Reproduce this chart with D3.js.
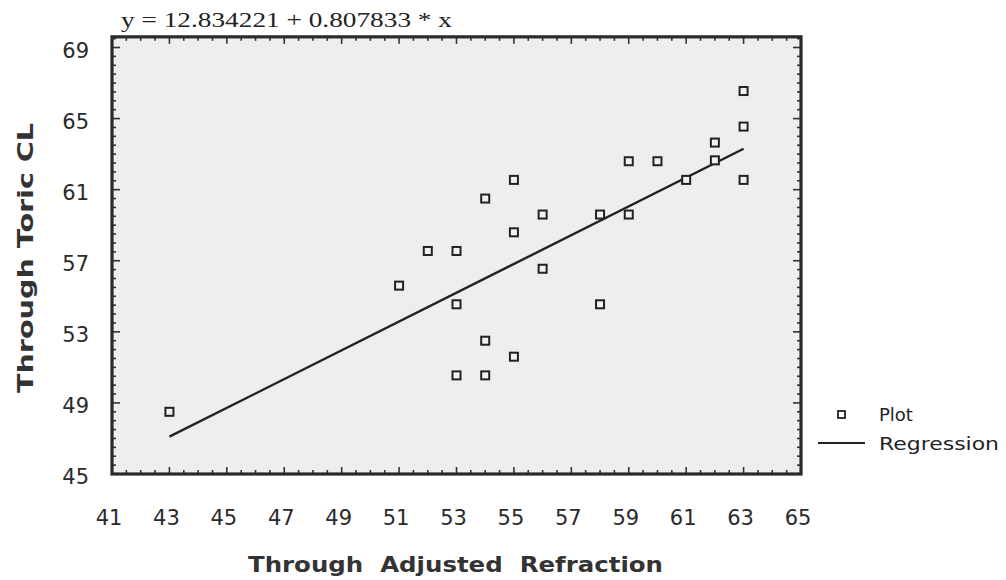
<!DOCTYPE html>
<html lang="en">
<head>
  <meta charset="UTF-8">
  <title>Through Toric CL vs Through Adjusted Refraction</title>
  <script src="https://cdnjs.cloudflare.com/ajax/libs/d3/7.8.5/d3.min.js"></script>
  <style>
    body { margin: 0; background: #fff; }
    svg { display: block; }
    .tick-label { font-family: "DejaVu Sans", sans-serif; font-size: 21px; fill: #2a2a2a; }
    .axis-title { font-family: "DejaVu Sans", sans-serif; font-weight: bold; font-size: 21px; fill: #333; }
    .legend { font-family: "DejaVu Sans", sans-serif; font-size: 18px; fill: #222; }
  </style>
</head>
<body>
<svg id="chart" width="1006" height="580"></svg>
<script>
// data
const xVals = [43, 51, 52, 53, 53, 53, 54, 54, 54, 55, 55, 55, 56, 56, 58, 58, 59, 59, 60, 61, 62, 62, 63, 63, 63];
const yVals = [48.5, 55.6, 57.55, 57.55, 54.55, 50.55, 60.5, 52.5, 50.55, 61.55, 58.6, 51.6, 59.6, 56.55, 59.6, 54.55, 62.6, 59.6, 62.6, 61.55, 63.65, 62.65, 66.55, 64.55, 61.55];
const lineX = [43, 63];
const lineY = [47.1, 63.3];
const xTicks = [41, 43, 45, 47, 49, 51, 53, 55, 57, 59, 61, 63, 65];
const yTicks = [45, 49, 53, 57, 61, 65, 69];
const equation = "y = 12.834221 + 0.807833 * x";

const svg = d3.select("#chart");
const x = d3.scaleLinear().domain([41, 65]).range([112, 801]);
const y = d3.scaleLinear().domain([45, 69]).range([474, 47.5]);
const yTop = 69.6;

// grainy paper texture
const defs = svg.append("defs");
const f = defs.append("filter").attr("id", "grain").attr("x", 0).attr("y", 0).attr("width", 1).attr("height", 1);
f.append("feTurbulence").attr("type", "fractalNoise").attr("baseFrequency", 0.9).attr("numOctaves", 2).attr("seed", 3);
f.append("feColorMatrix").attr("values", "0 0 0 0 0.45  0 0 0 0 0.45  0 0 0 0 0.45  0 0 0 0.16 0");
f.append("feComposite").attr("in2", "SourceGraphic").attr("operator", "in");

const fx0 = x(41), fx1 = x(65), fy0 = y(yTop), fy1 = y(45);
svg.append("rect").attr("x", fx0).attr("y", fy0).attr("width", fx1 - fx0).attr("height", fy1 - fy0)
  .attr("fill", "#f3f3f3");
svg.append("rect").attr("x", fx0).attr("y", fy0).attr("width", fx1 - fx0).attr("height", fy1 - fy0)
  .attr("fill", "#fff").attr("filter", "url(#grain)");

// inward ticks on all four sides
const ticks = svg.append("g").attr("stroke", "#333").attr("stroke-width", 1.6);
d3.range(41, 65.01, 0.5).forEach(v => {
  const major = xTicks.includes(v), len = major ? 7 : 4;
  ticks.append("line").attr("x1", x(v)).attr("x2", x(v)).attr("y1", fy1).attr("y2", fy1 - len);
  ticks.append("line").attr("x1", x(v)).attr("x2", x(v)).attr("y1", fy0).attr("y2", fy0 + len);
});
d3.range(45, yTop, 0.5).forEach(v => {
  const major = yTicks.includes(v), len = major ? 8 : 4;
  ticks.append("line").attr("y1", y(v)).attr("y2", y(v)).attr("x1", fx0).attr("x2", fx0 + len);
  ticks.append("line").attr("y1", y(v)).attr("y2", y(v)).attr("x1", fx1).attr("x2", fx1 - len);
});

svg.append("rect").attr("x", fx0).attr("y", fy0).attr("width", fx1 - fx0).attr("height", fy1 - fy0)
  .attr("fill", "none").attr("stroke", "#2a2a2a").attr("stroke-width", 3.2);

// tick labels
svg.append("g").selectAll("text").data(xTicks).join("text")
  .attr("class", "tick-label").attr("x", d => x(d) - 3).attr("y", 525)
  .attr("text-anchor", "middle").text(d => d);
svg.append("g").selectAll("text").data(yTicks).join("text")
  .attr("class", "tick-label").attr("x", 89).attr("y", d => y(d) + 10)
  .attr("text-anchor", "end").text(d => d);

// regression line
const line = d3.line().x(d => x(d[0])).y(d => y(d[1]));
svg.append("path").datum(d3.zip(lineX, lineY)).attr("d", line)
  .attr("fill", "none").attr("stroke", "#222").attr("stroke-width", 2.4);

// points
svg.append("g").selectAll("rect").data(d3.zip(xVals, yVals)).join("rect")
  .attr("x", d => x(d[0]) - 4).attr("y", d => y(d[1]) - 4)
  .attr("width", 8).attr("height", 8)
  .attr("fill", "#f2f2f2").attr("stroke", "#222").attr("stroke-width", 2);

// equation
svg.append("text").attr("x", 121).attr("y", 27)
  .attr("font-family", "Liberation Serif, serif").attr("font-size", 22).attr("fill", "#222")
  .attr("textLength", 331).attr("lengthAdjust", "spacingAndGlyphs").text(equation);

// axis titles
svg.append("text").attr("class", "axis-title").attr("x", 248).attr("y", 572)
  .attr("textLength", 415).attr("lengthAdjust", "spacingAndGlyphs")
  .attr("xml:space", "preserve").text("Through  Adjusted  Refraction");
svg.append("text").attr("class", "axis-title")
  .attr("transform", "translate(33,258) rotate(-90)")
  .attr("text-anchor", "middle").attr("font-size", 23)
  .attr("textLength", 270).attr("lengthAdjust", "spacingAndGlyphs").text("Through Toric CL");

// legend
const lg = svg.append("g");
lg.append("rect").attr("x", 838).attr("y", 411).attr("width", 7).attr("height", 7)
  .attr("fill", "none").attr("stroke", "#222").attr("stroke-width", 1.8);
lg.append("text").attr("class", "legend").attr("x", 879).attr("y", 421).text("Plot");
lg.append("line").attr("x1", 818).attr("x2", 865).attr("y1", 443).attr("y2", 443)
  .attr("stroke", "#222").attr("stroke-width", 1.8);
lg.append("text").attr("class", "legend").attr("x", 879).attr("y", 450)
  .attr("textLength", 120).attr("lengthAdjust", "spacingAndGlyphs").text("Regression");
</script>
</body>
</html>
